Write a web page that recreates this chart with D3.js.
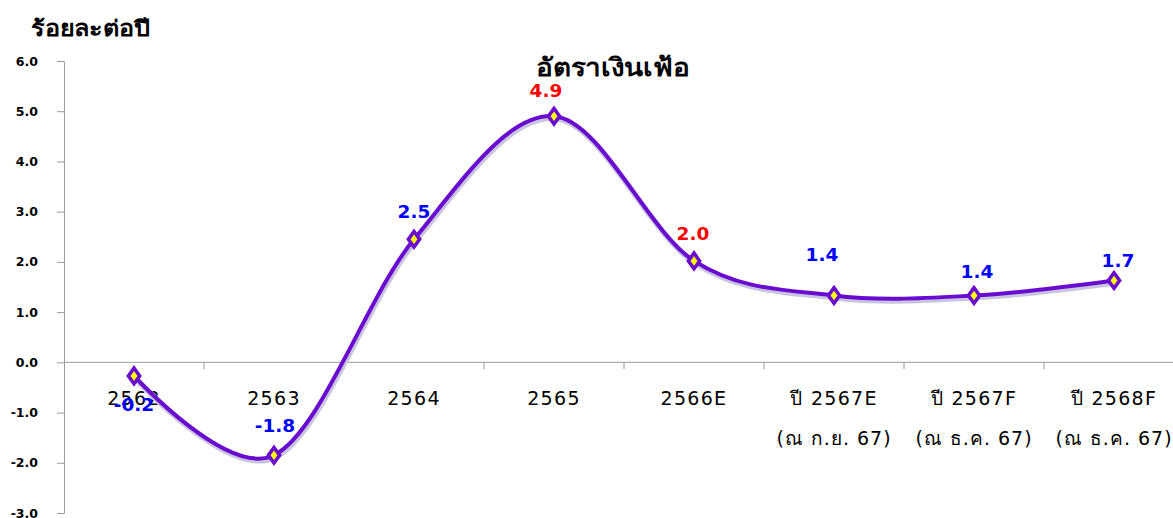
<!DOCTYPE html>
<html>
<head>
<meta charset="utf-8">
<script src="https://cdn.jsdelivr.net/npm/d3@7"></script>
<style>
  body { margin: 0; background: #fff; }
  text { font-family: "DejaVu Sans", Verdana, sans-serif; }
</style>
</head>
<body>
<div id="main"></div>
<script>
// data
var categories = ["2562", "2563", "2564", "2565", "2566E", "ปี 2567E", "ปี 2567F", "ปี 2568F"];
var subLabels = ["", "", "", "", "", "(ณ ก.ย. 67)", "(ณ ธ.ค. 67)", "(ณ ธ.ค. 67)"];
var inflation = [-0.27, -1.85, 2.45, 4.9, 2.02, 1.33, 1.33, 1.63];
var valueLabels = ["-0.2", "-1.8", "2.5", "4.9", "2.0", "1.4", "1.4", "1.7"];
var labelColors = ["blue", "blue", "blue", "red", "red", "blue", "blue", "blue"];
var yTicks = [6, 5, 4, 3, 2, 1, 0, -1, -2, -3];

// label nudges (dx, dy from the point)
var labelNudge = [[0, 35], [1, -23], [0, -21], [-8, -19], [-1, -21], [-12, -35], [3, -18], [4, -13]];

var width = 1173, height = 518;

var svg = d3.select("#main").append("svg")
    .attr("width", width)
    .attr("height", height);

var x = d3.scaleBand()
    .domain(categories)
    .range([64, 1184]);

var y = d3.scaleLinear()
    .domain([-3, 6])
    .range([513, 61]);

// y axis
var yAxis = d3.axisLeft(y)
    .tickValues(yTicks)
    .tickFormat(d => d.toFixed(1))
    .tickSize(7)
    .tickSizeOuter(0);

var gy = svg.append("g")
    .attr("transform", "translate(64,0)")
    .call(yAxis);
gy.select(".domain").attr("stroke", "#9a9a9a");
gy.selectAll(".tick line").attr("stroke", "#9a9a9a");
gy.selectAll(".tick text")
    .attr("x", -26)
    .attr("font-family", "DejaVu Sans")
    .attr("font-size", 12.5)
    .attr("font-weight", "bold")
    .attr("fill", "#000");

// zero line with category ticks
svg.append("line")
    .attr("x1", 64).attr("x2", width)
    .attr("y1", y(0)).attr("y2", y(0))
    .attr("stroke", "#9a9a9a");

svg.selectAll(".xtick")
    .data(categories.slice(1))
    .enter().append("line")
    .attr("x1", d => x(d)).attr("x2", d => x(d))
    .attr("y1", y(0)).attr("y2", y(0) + 7)
    .attr("stroke", "#9a9a9a");

// category labels
svg.selectAll(".xlab")
    .data(categories)
    .enter().append("text")
    .attr("x", d => x(d) + x.bandwidth() / 2)
    .attr("y", 405)
    .attr("text-anchor", "middle")
    .attr("font-size", 19)
    .attr("letter-spacing", 1.3)
    .attr("fill", "#000")
    .text(d => d);

svg.selectAll(".xlab2")
    .data(subLabels)
    .enter().append("text")
    .attr("x", (d, i) => x(categories[i]) + x.bandwidth() / 2)
    .attr("y", 445)
    .attr("text-anchor", "middle")
    .attr("font-size", 19)
    .attr("letter-spacing", 1)
    .attr("fill", "#000")
    .text(d => d);

// line
var pts = inflation.map((v, i) => [x(categories[i]) + x.bandwidth() / 2, y(v)]);

var line = d3.line().curve(d3.curveCardinal.tension(0));

svg.append("path")
    .attr("d", line(pts.map(p => [p[0] + 1, p[1] + 2])))
    .attr("fill", "none")
    .attr("stroke", "#c9c4e0")
    .attr("stroke-width", 6);

svg.append("path")
    .attr("d", line(pts))
    .attr("fill", "none")
    .attr("stroke", "#6a0bd0")
    .attr("stroke-width", 4);

// markers
var diamond = d3.symbol().type(d3.symbolDiamond).size(70);
svg.selectAll(".mk")
    .data(pts)
    .enter().append("path")
    .attr("d", diamond)
    .attr("transform", d => "translate(" + d[0] + "," + d[1] + ") scale(1.25,1)")
    .attr("fill", "#ffff00")
    .attr("stroke", "#6a0bd0")
    .attr("stroke-width", 3);

// value labels
svg.selectAll(".vl")
    .data(valueLabels)
    .enter().append("text")
    .attr("x", (d, i) => pts[i][0] + labelNudge[i][0])
    .attr("y", (d, i) => pts[i][1] + labelNudge[i][1])
    .attr("text-anchor", "middle")
    .attr("font-size", 18.5)
    .attr("font-weight", "bold")
    .attr("fill", (d, i) => labelColors[i])
    .text(d => d);

// titles
svg.append("text")
    .attr("x", 536).attr("y", 76)
    .attr("font-size", 25)
    .attr("font-weight", "bold")
    .attr("textLength", 154)
    .attr("lengthAdjust", "spacingAndGlyphs")
    .attr("fill", "#000")
    .text("อัตราเงินเฟ้อ");

svg.append("text")
    .attr("x", 31).attr("y", 36)
    .attr("font-size", 22)
    .attr("font-weight", "bold")
    .attr("textLength", 119)
    .attr("lengthAdjust", "spacingAndGlyphs")
    .attr("fill", "#000")
    .text("ร้อยละต่อปี");
</script>
</body>
</html>
